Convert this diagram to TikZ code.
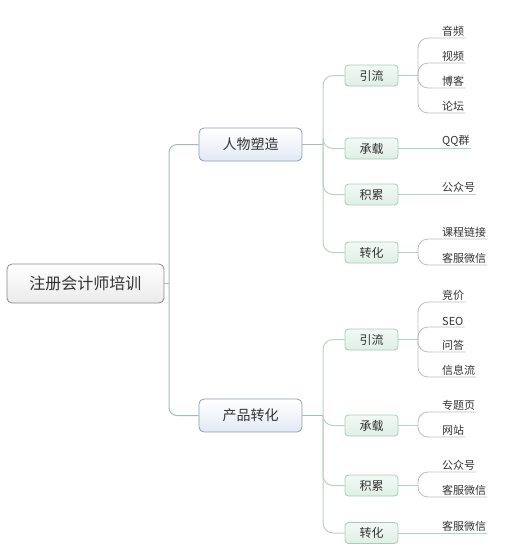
\documentclass[tikz,border=0pt]{standalone}
\usepackage{fontspec}
\newfontfamily\cjk{Noto Sans CJK SC}
\usetikzlibrary{shadings}
\definecolor{txt}{HTML}{333333}
\definecolor{rootborder}{HTML}{8A8A8A}
\definecolor{lvaborder}{HTML}{8E9CB2}
\definecolor{lvbborder}{HTML}{A9CCB6}
\definecolor{lnroot}{HTML}{A8BAB8}
\definecolor{lnmid}{HTML}{B3D4C0}
\definecolor{lnleaf}{HTML}{BDBDBD}
\tikzset{
  rootbox/.style={draw=rootborder, line width=0.8pt, rounded corners=5pt, top color=white, bottom color=black!8,
    minimum width=157pt, minimum height=39pt, inner sep=0pt, font=\cjk\fontsize{16}{18}\selectfont, text=txt},
  lvabox/.style={draw=lvaborder, line width=0.8pt, rounded corners=5pt, top color=white, bottom color={rgb,255:red,226;green,233;blue,245},
    minimum width=103pt, minimum height=33pt, inner sep=0pt, font=\cjk\fontsize{14}{16}\selectfont, text=txt},
  lvbbox/.style={draw=lvbborder, line width=0.8pt, rounded corners=3.5pt, top color={rgb,255:red,242;green,249;blue,245}, bottom color={rgb,255:red,222;green,239;blue,229},
    minimum width=53pt, minimum height=21pt, inner sep=0pt, font=\cjk\fontsize{12}{14}\selectfont, text=txt},
  leaf/.style={anchor=south west, inner xsep=1pt, inner ysep=1.5pt, font=\cjk\fontsize{11}{13}\selectfont, text=txt},
  rline/.style={draw=lnroot, line width=1pt, rounded corners=8pt},
  mline/.style={draw=lnmid, line width=1pt, rounded corners=10pt},
  lline/.style={draw=lnleaf, line width=0.8pt, rounded corners=10pt},
  mstub/.style={draw=lnmid, line width=1pt},
}
\begin{document}
\begin{tikzpicture}[x=1pt,y=-1pt]
\useasboundingbox (0,0) rectangle (509,550);
% root and level 1
\node[rootbox] (root) at (85.5,283.5) {注册会计师培训};
\node[lvabox] (pa) at (250.5,144.5) {人物塑造};
\node[lvabox] (pb) at (250.5,415.5) {产品转化};
\coordinate (jr) at (169,283.5);
\draw[draw=lnroot, line width=1pt] (root.east) -- (jr);
\draw[rline] (jr) |- (pa.west);
\draw[rline] (jr) |- (pb.west);
% level 2 (top)
\node[lvbbox] (a1) at (371.5,75.5) {引流};
\node[lvbbox] (a2) at (371.5,148.5) {承载};
\node[lvbbox] (a3) at (371.5,194.5) {积累};
\node[lvbbox] (a4) at (371.5,252.5) {转化};
\coordinate (ja) at (323,144.5);
\draw[draw=lnroot, line width=1pt] (pa.east) -- (ja);
\foreach \n in {a1,a2,a3,a4} \draw[mline] (ja) |- (\n.west);
% level 2 (bottom)
\node[lvbbox] (b1) at (371.5,339.5) {引流};
\node[lvbbox] (b2) at (371.5,425.5) {承载};
\node[lvbbox] (b3) at (371.5,485.5) {积累};
\node[lvbbox] (b4) at (371.5,533) {转化};
\coordinate (jb) at (323,415.5);
\draw[draw=lnroot, line width=1pt] (pb.east) -- (jb);
\foreach \n in {b1,b2,b3,b4} \draw[mline] (jb) |- (\n.west);
% leaves top
\node[leaf] (l1) at (441,38) {音频};
\node[leaf] (l2) at (441,63) {视频};
\node[leaf] (l3) at (441,88) {博客};
\node[leaf] (l4) at (441,113) {论坛};
\node[leaf] (l5) at (441,148.5) {QQ群};
\node[leaf] (l6) at (441,194.5) {公众号};
\node[leaf] (l7) at (441,239) {课程链接};
\node[leaf] (l8) at (441,265) {客服微信};
\coordinate (ka1) at (418,75.5);
\coordinate (ka4) at (418,252.5);
\draw[mstub] (a1.east) -- (ka1);
\foreach \n in {l1,l2,l3,l4} \draw[lline] (ka1) |- (\n.south east);
\draw[mstub] (a2.east) -- (l5.south east);
\draw[mstub] (a3.east) -- (l6.south east);
\draw[mstub] (a4.east) -- (ka4);
\foreach \n in {l7,l8} \draw[lline] (ka4) |- (\n.south east);
% leaves bottom
\node[leaf] (m1) at (441,302) {竞价};
\node[leaf] (m2) at (441,327) {SEO};
\node[leaf] (m3) at (441,352) {问答};
\node[leaf] (m4) at (441,377) {信息流};
\node[leaf] (m5) at (441,412) {专题页};
\node[leaf] (m6) at (441,437) {网站};
\node[leaf] (m7) at (441,472) {公众号};
\node[leaf] (m8) at (441,497) {客服微信};
\node[leaf] (m9) at (441,533) {客服微信};
\coordinate (kb1) at (418,339.5);
\coordinate (kb2) at (418,425.5);
\coordinate (kb3) at (418,485.5);
\draw[mstub] (b1.east) -- (kb1);
\foreach \n in {m1,m2,m3,m4} \draw[lline] (kb1) |- (\n.south east);
\draw[mstub] (b2.east) -- (kb2);
\foreach \n in {m5,m6} \draw[lline] (kb2) |- (\n.south east);
\draw[mstub] (b3.east) -- (kb3);
\foreach \n in {m7,m8} \draw[lline] (kb3) |- (\n.south east);
\draw[mstub] (b4.east) -- (m9.south east);
\end{tikzpicture}
\end{document}
